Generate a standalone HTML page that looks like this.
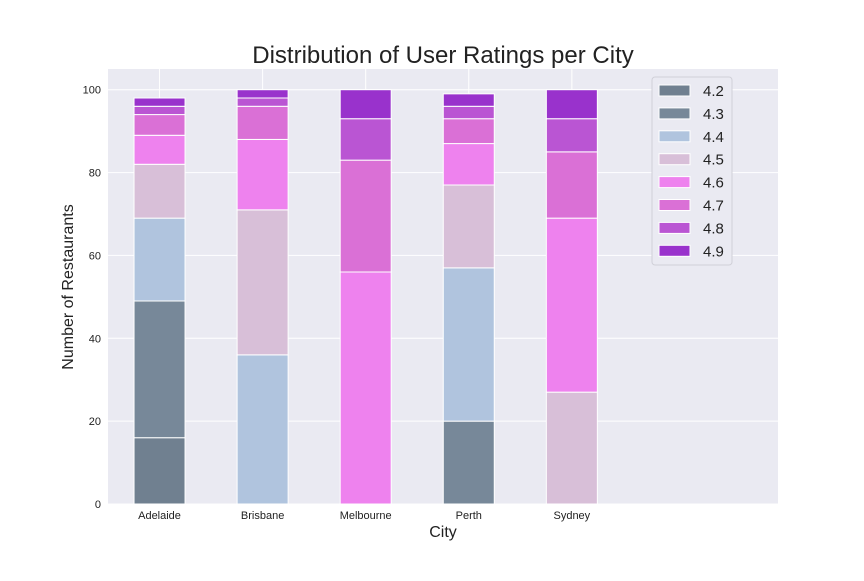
<!DOCTYPE html>
<html><head><meta charset="utf-8"><style>
body{margin:0;background:#fff;font-family:"Liberation Sans",sans-serif;}
</style></head><body>
<svg id="chart" width="864" height="576" xmlns="http://www.w3.org/2000/svg" font-family="Liberation Sans, sans-serif">
<rect width="864" height="576" fill="#fff"/>
<text x="443" y="63" font-size="24" text-anchor="middle" fill="#222">Distribution of User Ratings per City</text>
<rect x="108" y="69" width="670" height="435" fill="#eaeaf2"/>
<g id="grid"></g><g id="bars"></g><g id="ticks"></g>
<text x="443" y="537" font-size="16" text-anchor="middle" fill="#222">City</text>
<text transform="translate(73,287) rotate(-90)" font-size="16" text-anchor="middle" fill="#222">Number of Restaurants</text>
<g id="legend"></g>
</svg>
<script>
const cities=["Adelaide","Brisbane","Melbourne","Perth","Sydney"];
const ratings=["4.2","4.3","4.4","4.5","4.6","4.7","4.8","4.9"];
const colors=["#708090","#778899","#b0c4de","#d8bfd8","#ee82ee","#da70d6","#ba55d3","#9932cc"];
const r42=[16,0,0,0,0];
const r43=[33,0,0,20,0];
const r44=[20,36,0,37,0];
const r45=[13,35,0,20,27];
const r46=[7,17,56,10,42];
const r47=[5,8,27,6,16];
const r48=[2,2,10,3,8];
const r49=[2,2,7,3,7];
const series=[r42,r43,r44,r45,r46,r47,r48,r49];
const yTicks=[0,20,40,60,80,100];
const NS="http://www.w3.org/2000/svg";
const X0=108,X1=778,Y0=504,Y1=69;
const xs=i=>X0+(i+0.5)/6.5*(X1-X0);
const ys=v=>Y0-v/105*(Y0-Y1);
function mk(t,a,p){const e=document.createElementNS(NS,t);for(const k in a)e.setAttribute(k,a[k]);p.appendChild(e);return e;}
const grid=document.getElementById('grid'),bars=document.getElementById('bars'),ticks=document.getElementById('ticks'),leg=document.getElementById('legend');
yTicks.forEach(v=>{
 const l=mk('line',{x1:X0,x2:X1,y1:ys(v),y2:ys(v),stroke:'#fff','stroke-width':1},grid);
 
 
 const t=mk('text',{x:X0-7,y:ys(v)+4,'font-size':11,'text-anchor':'end',fill:'#222'},ticks);t.textContent=v;
 
 
});
cities.forEach((c,i)=>{
 const l=mk('line',{x1:xs(i),x2:xs(i),y1:Y1,y2:Y0,stroke:'#fff','stroke-width':1},grid);
 
 
});
const bw=51/(X1-X0)*6.5;
cities.forEach((c,i)=>{
 let base=0;
 series.forEach((s,k)=>{
  const v=s[i];
  if(v>0){
   const r=mk('rect',{x:xs(i-bw/2),y:ys(base+v),width:xs(i+bw/2)-xs(i-bw/2),height:ys(base)-ys(base+v),fill:colors[k],stroke:'#fff','stroke-width':1},bars);
   
   
  }
  base+=v;
 });
 const t=mk('text',{x:xs(i),y:Y0+15,'font-size':11,'text-anchor':'middle',fill:'#222'},ticks);t.textContent=c;
 
 
});
const box=mk('rect',{x:652,y:77,width:80,height:188,rx:3,fill:'#eaeaf2',stroke:'#d0d0d8'},leg);


ratings.forEach((r,k)=>{
 const y=90.5+k*22.9;
 const p=mk('rect',{x:659,y:y-5.5,width:31,height:11,fill:colors[k],stroke:'#fff','stroke-width':1},leg);
 
 
 const t=mk('text',{x:703,y:y+5.5,'font-size':15,fill:'#222'},leg);t.textContent=r;
 
 
});
</script>
</body></html>
